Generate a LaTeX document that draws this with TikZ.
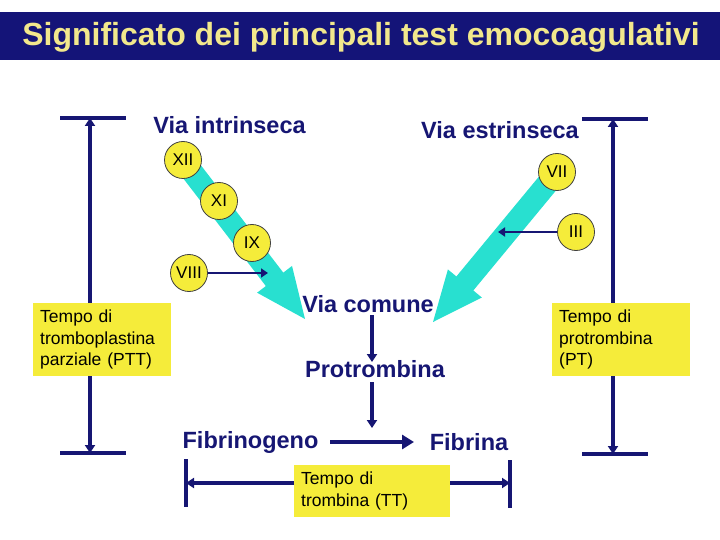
\documentclass[tikz,border=0pt]{standalone}
\usepackage{fontspec}
\setmainfont{Liberation Sans}
\usetikzlibrary{arrows.meta,calc}
\definecolor{navyc}{RGB}{22,22,115}
\definecolor{titlebg}{RGB}{20,20,120}
\definecolor{titletext}{RGB}{242,232,140}
\definecolor{cyanc}{RGB}{40,224,208}
\definecolor{yellowc}{RGB}{245,236,58}
\newcommand\fatarrow[2]{%
  \coordinate (#1-b) at ($(#2)!50pt!(#1)$);
  \fill[cyanc] ($(#1)!11pt!90:(#2)$) -- ($(#1-b)!11pt!90:(#2)$) -- ($(#1-b)!22pt!90:(#2)$) -- (#2)
    -- ($(#1-b)!22pt!-90:(#2)$) -- ($(#1-b)!11pt!-90:(#2)$) -- ($(#1)!11pt!-90:(#2)$) -- cycle;}
\tikzset{
  lbl/.style={text=navyc, font=\fontsize{23.5}{26}\bfseries\selectfont, inner sep=0pt},
  factor/.style={circle, draw=black!75, line width=0.8pt, fill=yellowc, minimum size=37pt, inner sep=0pt, font=\fontsize{17}{17}\selectfont},
  tbox/.style={fill=yellowc, anchor=north west, inner xsep=7pt, inner ysep=0pt, align=left, font=\fontsize{17.5}{21.5}\selectfont},
  nav/.style={draw=navyc, line width=3.5pt},
  narr/.style={nav, -{Triangle[width=10pt,length=8pt]}},
  thinarr/.style={draw=navyc, line width=2.8pt, -{Triangle[width=9pt,length=7pt]}},
}
\begin{document}
\begin{tikzpicture}[x=1pt,y=-1pt]
\useasboundingbox (0,0) rectangle (720,540);
% title
\fill[titlebg] (0,12) rectangle (720,60);
\node[text=titletext, font=\fontsize{32}{34}\bfseries\selectfont, inner sep=0pt] (title) at (361,37) {Significato dei principali test emocoagulativi};
% labels
\node[lbl] (intr) at (229.5,125) {Via intrinseca};
\node[lbl] (estr) at (500,130) {Via estrinseca};
% cyan arrows
\coordinate (ia) at (183,160);
\coordinate (it) at (305,319);
\coordinate (ea) at (557,172);
\coordinate (et) at (433,322);
\fatarrow{ia}{it}
\fatarrow{ea}{et}
% factors
\node[factor] (f12) at (183,160) {XII};
\node[factor] (f11) at (219,201) {XI};
\node[factor] (f9) at (252,243) {IX};
\node[factor] (f8) at (189,273) {VIII};
\node[factor] (f7) at (557,172) {VII};
\node[factor] (f3) at (576,232) {III};
\coordinate (e8) at (268,273);
\coordinate (e3) at (498,232);
\draw[thinarr] (f8) -- (e8);
\draw[thinarr] (f3) -- (e3);
% common pathway
\node[lbl] (comune) at (368,304) {Via comune};
\node[lbl] (protro) at (375,369) {Protrombina};
\node[lbl] (fibgen) at (250.5,442) {Fibrinogeno};
\node[lbl] (fibrina) at (469,442) {Fibrina};
\coordinate (c1) at (372,315);
\coordinate (c2) at (372,362);
\coordinate (c3) at (372,382);
\coordinate (c4) at (372,428);
\draw[narr] (c1) -- (c2);
\draw[narr] (c3) -- (c4);
\coordinate (h1) at (330,442);
\coordinate (h2) at (414,442);
\draw[nav, -{Triangle[width=14pt,length=12pt]}] (h1) -- (h2);
% PTT
\node[tbox, minimum width=138pt, minimum height=73pt, text width=124pt] (ptt) at (33,303) {Tempo di\\tromboplastina\\parziale (PTT)};
\coordinate (ptop) at (90,118);
\coordinate (pbot) at (90,453);
\draw[nav] (60,118) -- (126,118);
\draw[nav] (60,453) -- (126,453);
\draw[narr] (ptt.north -| ptop) -- (ptop);
\draw[narr] (ptt.south -| pbot) -- (pbot);
% PT
\node[tbox, minimum width=138pt, minimum height=73pt, text width=124pt] (pt) at (552,303) {Tempo di\\protrombina\\(PT)};
\coordinate (qtop) at (613,119);
\coordinate (qbot) at (613,454);
\draw[nav] (582,119) -- (648,119);
\draw[nav] (582,454) -- (648,454);
\draw[narr] (pt.north -| qtop) -- (qtop);
\draw[narr] (pt.south -| qbot) -- (qbot);
% TT
\node[tbox, minimum width=156pt, minimum height=52pt, text width=142pt] (tt) at (294,465) {Tempo di\\trombina (TT)};
\coordinate (tl) at (186,483);
\coordinate (tr) at (510,483);
\draw[nav] (186,459) -- (186,507);
\draw[nav] (510,460) -- (510,508);
\draw[narr] (tt.west |- tl) -- (tl);
\draw[narr] (tt.east |- tr) -- (tr);
\end{tikzpicture}
\end{document}
